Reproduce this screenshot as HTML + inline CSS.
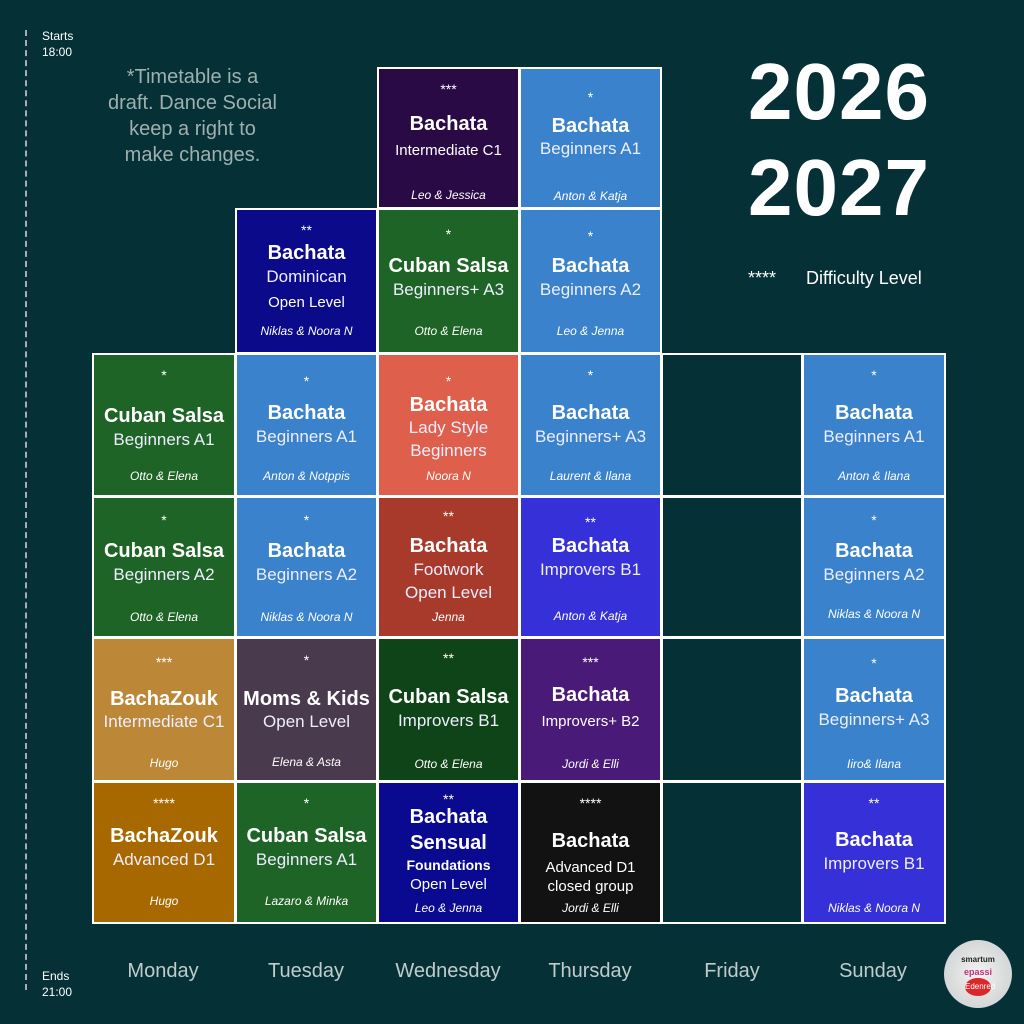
<!DOCTYPE html>
<html><head><meta charset="utf-8"><style>
body{margin:0;width:1024px;height:1024px;background:#053036;position:relative;overflow:hidden;font-family:"Liberation Sans",sans-serif;color:#fff}
.c{position:absolute;box-sizing:border-box;border:2px solid #fff}
.c div{position:absolute;left:0;right:0;text-align:center;line-height:20px;white-space:nowrap}
.s{font-size:14px}
.t{font-size:20px;font-weight:bold}
.u{font-size:17px;color:#eef}
.o{font-size:15px}
.n{font-size:12px;font-style:italic}
.a{position:absolute}
.day{position:absolute;top:960px;font-size:20px;color:#c0cccc;width:142px;text-align:center}
</style></head><body>
<div class="a" style="left:25px;top:30px;height:960px;border-left:2px dashed #aab"></div>
<div class="a" style="left:42px;top:28px;font-size:12px;line-height:16px">Starts<br>18:00</div>
<div class="a" style="left:42px;top:968px;font-size:12px;line-height:16px">Ends<br>21:00</div>
<div class="a" style="left:90px;top:64px;width:205px;text-align:center;font-size:20px;line-height:26px;color:#9fb0ae">*Timetable is a<br>draft. Dance Social<br>keep a right to<br>make changes.</div>
<div class="a" style="left:748px;top:44px;font-size:80px;font-weight:bold;line-height:96px;letter-spacing:1px">2026<br>2027</div>
<div class="a" style="left:748px;top:268px;font-size:18px">****&nbsp;&nbsp;&nbsp;&nbsp;&nbsp;&nbsp;Difficulty Level</div>

<div class="c" style="left:377px;top:67px;width:143px;height:142px;background:#2a0a45"><div class="s" style="top:10px">***</div><div class="t" style="top:45px">Bachata</div><div class="o" style="top:72px">Intermediate C1</div><div class="n" style="top:116px">Leo &amp; Jessica</div></div>
<div class="c" style="left:519px;top:67px;width:143px;height:142px;background:#3a82cc"><div class="s" style="top:18px">*</div><div class="t" style="top:47px">Bachata</div><div class="u" style="top:70px">Beginners A1</div><div class="n" style="top:117px">Anton &amp; Katja</div></div>

<div class="c" style="left:235px;top:208px;width:143px;height:146px;background:#0a0a8a"><div class="s" style="top:10px">**</div><div class="t" style="top:33px">Bachata</div><div class="u" style="top:57px">Dominican</div><div class="o" style="top:83px">Open Level</div><div class="n" style="top:111px">Niklas &amp; Noora N</div></div>
<div class="c" style="left:377px;top:208px;width:143px;height:146px;background:#1e6426"><div class="s" style="top:14px">*</div><div class="t" style="top:46px">Cuban Salsa</div><div class="u" style="top:70px">Beginners+ A3</div><div class="n" style="top:111px">Otto &amp; Elena</div></div>
<div class="c" style="left:519px;top:208px;width:143px;height:146px;background:#3a82cc"><div class="s" style="top:16px">*</div><div class="t" style="top:46px">Bachata</div><div class="u" style="top:70px">Beginners A2</div><div class="n" style="top:111px">Leo &amp; Jenna</div></div>

<div class="c" style="left:92px;top:353px;width:144px;height:144px;background:#1e6426"><div class="s" style="top:10px">*</div><div class="t" style="top:51px">Cuban Salsa</div><div class="u" style="top:75px">Beginners A1</div><div class="n" style="top:111px">Otto &amp; Elena</div></div>
<div class="c" style="left:235px;top:353px;width:143px;height:144px;background:#3a82cc"><div class="s" style="top:16px">*</div><div class="t" style="top:48px">Bachata</div><div class="u" style="top:72px">Beginners A1</div><div class="n" style="top:111px">Anton &amp; Notppis</div></div>
<div class="c" style="left:377px;top:353px;width:143px;height:144px;background:#de5f4b"><div class="s" style="top:16px">*</div><div class="t" style="top:40px">Bachata</div><div class="u" style="top:63px">Lady Style</div><div class="u" style="top:86px">Beginners</div><div class="n" style="top:111px">Noora N</div></div>
<div class="c" style="left:519px;top:353px;width:143px;height:144px;background:#3a82cc"><div class="s" style="top:10px">*</div><div class="t" style="top:48px">Bachata</div><div class="u" style="top:72px">Beginners+ A3</div><div class="n" style="top:111px">Laurent &amp; Ilana</div></div>
<div class="c" style="left:661px;top:353px;width:142px;height:144px;background:#053036"></div>
<div class="c" style="left:802px;top:353px;width:144px;height:144px;background:#3a82cc"><div class="s" style="top:10px">*</div><div class="t" style="top:48px">Bachata</div><div class="u" style="top:72px">Beginners A1</div><div class="n" style="top:111px">Anton &amp; Ilana</div></div>

<div class="c" style="left:92px;top:496px;width:144px;height:142px;background:#1e6426"><div class="s" style="top:12px">*</div><div class="t" style="top:43px">Cuban Salsa</div><div class="u" style="top:67px">Beginners A2</div><div class="n" style="top:109px">Otto &amp; Elena</div></div>
<div class="c" style="left:235px;top:496px;width:143px;height:142px;background:#3a82cc"><div class="s" style="top:12px">*</div><div class="t" style="top:43px">Bachata</div><div class="u" style="top:67px">Beginners A2</div><div class="n" style="top:109px">Niklas &amp; Noora N</div></div>
<div class="c" style="left:377px;top:496px;width:143px;height:142px;background:#a83a2c"><div class="s" style="top:8px">**</div><div class="t" style="top:38px">Bachata</div><div class="u" style="top:62px">Footwork</div><div class="u" style="top:85px">Open Level</div><div class="n" style="top:109px">Jenna</div></div>
<div class="c" style="left:519px;top:496px;width:143px;height:142px;background:#3530d8"><div class="s" style="top:14px">**</div><div class="t" style="top:38px">Bachata</div><div class="u" style="top:62px">Improvers B1</div><div class="n" style="top:108px">Anton &amp; Katja</div></div>
<div class="c" style="left:661px;top:496px;width:142px;height:142px;background:#053036"></div>
<div class="c" style="left:802px;top:496px;width:144px;height:142px;background:#3a82cc"><div class="s" style="top:12px">*</div><div class="t" style="top:43px">Bachata</div><div class="u" style="top:67px">Beginners A2</div><div class="n" style="top:106px">Niklas &amp; Noora N</div></div>

<div class="c" style="left:92px;top:637px;width:144px;height:145px;background:#bc8838"><div class="s" style="top:13px">***</div><div class="t" style="top:50px">BachaZouk</div><div class="u" style="top:73px">Intermediate C1</div><div class="n" style="top:114px">Hugo</div></div>
<div class="c" style="left:235px;top:637px;width:143px;height:145px;background:#4a3a4e"><div class="s" style="top:11px">*</div><div class="t" style="top:50px">Moms &amp; Kids</div><div class="u" style="top:73px">Open Level</div><div class="n" style="top:113px">Elena &amp; Asta</div></div>
<div class="c" style="left:377px;top:637px;width:143px;height:145px;background:#0f4418"><div class="s" style="top:9px">**</div><div class="t" style="top:48px">Cuban Salsa</div><div class="u" style="top:72px">Improvers B1</div><div class="n" style="top:115px">Otto &amp; Elena</div></div>
<div class="c" style="left:519px;top:637px;width:143px;height:145px;background:#4a1a78"><div class="s" style="top:13px">***</div><div class="t" style="top:46px">Bachata</div><div class="o" style="top:73px">Improvers+ B2</div><div class="n" style="top:115px">Jordi &amp; Elli</div></div>
<div class="c" style="left:661px;top:637px;width:142px;height:145px;background:#053036"></div>
<div class="c" style="left:802px;top:637px;width:144px;height:145px;background:#3a82cc"><div class="s" style="top:14px">*</div><div class="t" style="top:47px">Bachata</div><div class="u" style="top:71px">Beginners+ A3</div><div class="n" style="top:115px">Iiro&amp; Ilana</div></div>

<div class="c" style="left:92px;top:781px;width:144px;height:143px;background:#a86800"><div class="s" style="top:10px">****</div><div class="t" style="top:43px">BachaZouk</div><div class="u" style="top:67px">Advanced D1</div><div class="n" style="top:108px">Hugo</div></div>
<div class="c" style="left:235px;top:781px;width:143px;height:143px;background:#1e6426"><div class="s" style="top:10px">*</div><div class="t" style="top:43px">Cuban Salsa</div><div class="u" style="top:67px">Beginners A1</div><div class="n" style="top:108px">Lazaro &amp; Minka</div></div>
<div class="c" style="left:377px;top:781px;width:143px;height:143px;background:#0a0a90"><div class="s" style="top:6px">**</div><div class="t" style="top:24px">Bachata</div><div class="t" style="top:50px">Sensual</div><div class="o" style="top:72px;font-weight:bold;font-size:14px">Foundations</div><div class="o" style="top:92px">Open Level</div><div class="n" style="top:115px">Leo &amp; Jenna</div></div>
<div class="c" style="left:519px;top:781px;width:143px;height:143px;background:#121212"><div class="s" style="top:10px">****</div><div class="t" style="top:48px">Bachata</div><div class="o" style="top:75px">Advanced D1</div><div class="o" style="top:94px">closed group</div><div class="n" style="top:115px">Jordi &amp; Elli</div></div>
<div class="c" style="left:661px;top:781px;width:142px;height:143px;background:#053036"></div>
<div class="c" style="left:802px;top:781px;width:144px;height:143px;background:#3530d8"><div class="s" style="top:10px">**</div><div class="t" style="top:47px">Bachata</div><div class="u" style="top:71px">Improvers B1</div><div class="n" style="top:115px">Niklas &amp; Noora N</div></div>

<div class="day" style="left:92px">Monday</div>
<div class="day" style="left:235px">Tuesday</div>
<div class="day" style="left:377px">Wednesday</div>
<div class="day" style="left:519px">Thursday</div>
<div class="day" style="left:661px">Friday</div>
<div class="day" style="left:802px">Sunday</div>
<div class="a" style="left:944px;top:940px;width:68px;height:68px;border-radius:50%;background:radial-gradient(#f2f2f2,#c8cccc);text-align:center;font-size:8px;line-height:12px;padding-top:14px;box-sizing:border-box">
<div style="color:#222;font-weight:bold">smartum</div><div style="color:#c0307a;font-weight:bold;font-size:9px">epassi</div><div style="display:inline-block;background:#d8282a;border-radius:50%;width:26px;height:18px;color:#fff;line-height:18px">Edenred</div></div>
</body></html>
